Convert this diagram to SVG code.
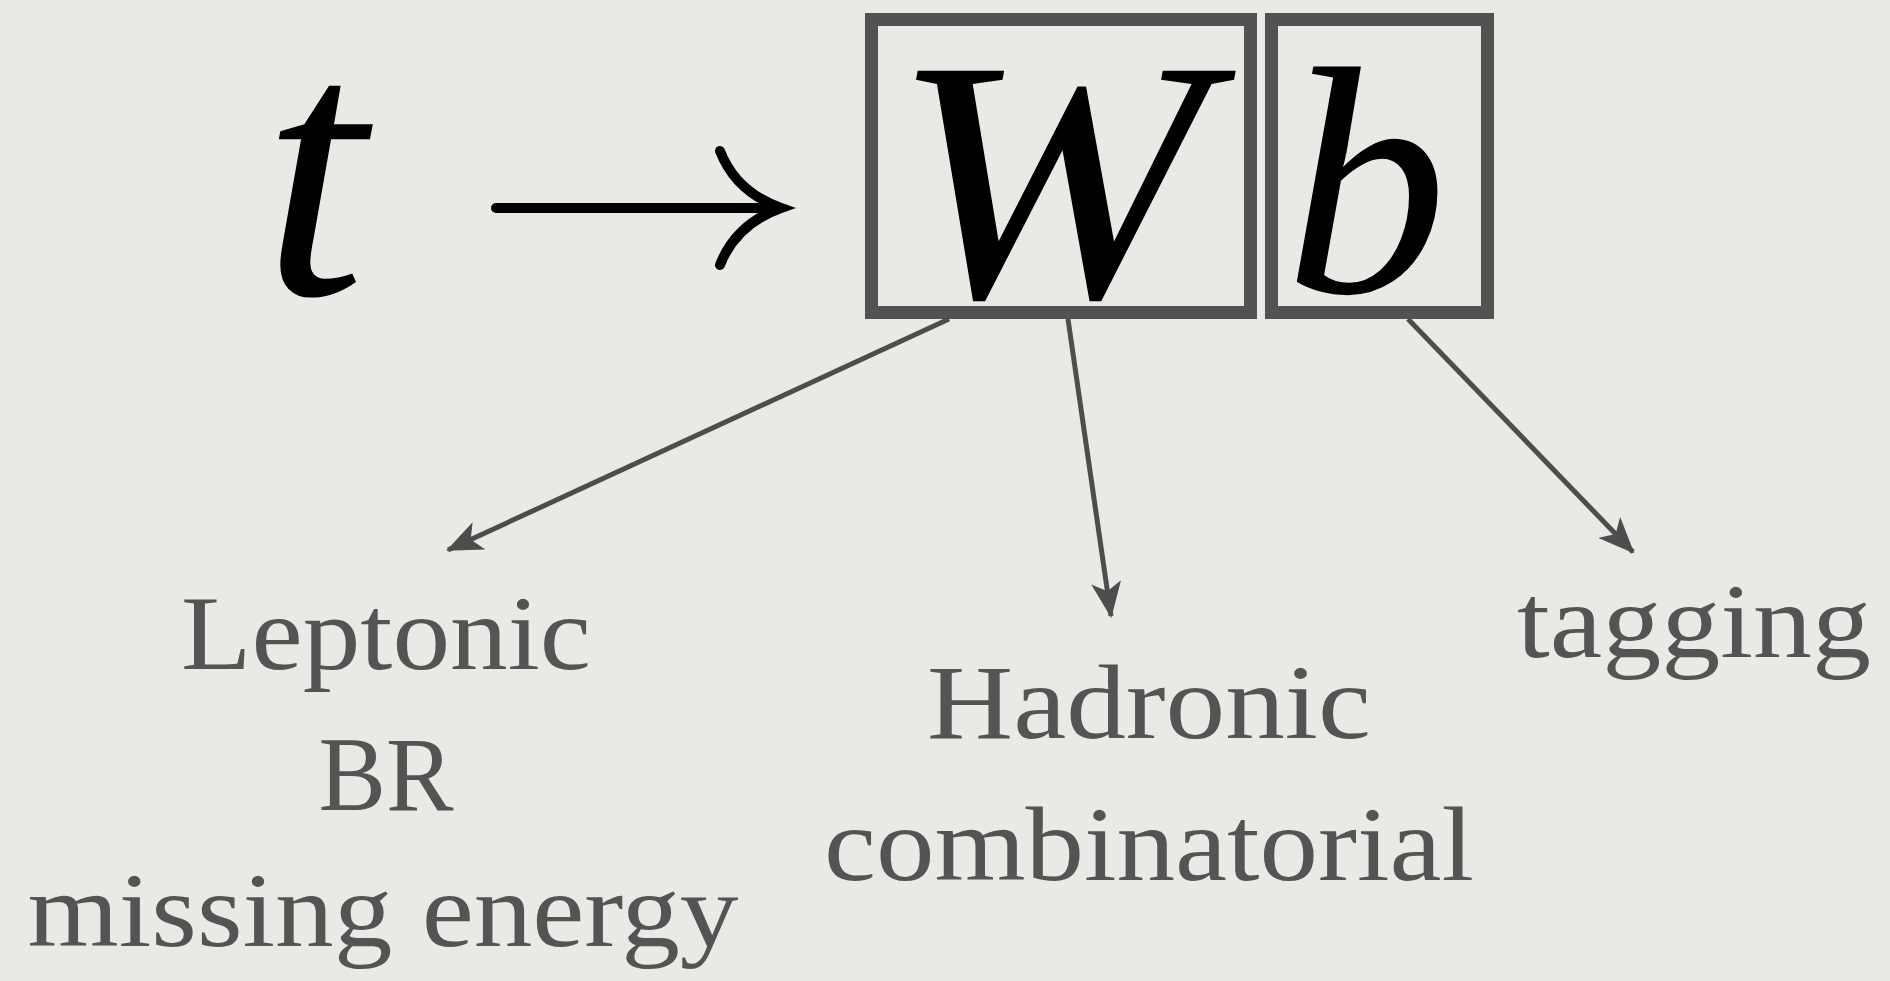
<svg xmlns="http://www.w3.org/2000/svg" width="1890" height="981" viewBox="0 0 1890 981">
<style>
.math{font-family:"Liberation Serif",serif;font-style:italic;fill:#000;text-anchor:middle}
.lbl{font-family:"Liberation Serif",serif;font-size:106px;fill:#545454;text-anchor:middle}
.box{fill:none;stroke:#525252;stroke-width:13}
.conn{stroke:#4d4d4d;stroke-width:5;fill:none;marker-end:url(#ah)}
</style>
<defs>
<marker id="ah" markerUnits="userSpaceOnUse" viewBox="0 0 36 30" refX="34" refY="15" markerWidth="36" markerHeight="30" orient="auto">
<path d="M0,0 L36,15 L0,30 L9,15 Z" fill="#4d4d4d"/>
</marker>
</defs>
<rect width="1890" height="981" fill="#e9e9e5"/>
<g id="formula">
<text class="math" x="314" y="294" font-size="370">t</text>
<path d="M496,208 H776 M720,151 Q736,192 781,208 Q736,224 720,265" fill="none" stroke="#000" stroke-width="10" stroke-linecap="round"/>
</g>
<g id="node-W">
<rect class="box" x="871.5" y="19.5" width="379" height="293"/>
<text class="math" x="1049" y="296" font-size="344" textLength="316" lengthAdjust="spacingAndGlyphs">W</text>
</g>
<g id="node-b">
<rect class="box" x="1271.5" y="19.5" width="216" height="293"/>
<text class="math" x="1366" y="292" font-size="325">b</text>
</g>
<g id="connectors">
<line class="conn" x1="949" y1="319" x2="448" y2="550"/>
<line class="conn" x1="1068" y1="319" x2="1111" y2="616"/>
<line class="conn" x1="1408" y1="319" x2="1633" y2="552"/>
</g>
<g id="node-leptonic">
<text class="lbl" x="386" y="669" textLength="410" lengthAdjust="spacingAndGlyphs">Leptonic</text>
<text class="lbl" x="386" y="810" textLength="135" lengthAdjust="spacingAndGlyphs">BR</text>
<text class="lbl" x="383" y="946" textLength="711" lengthAdjust="spacingAndGlyphs">missing energy</text>
</g>
<g id="node-hadronic">
<text class="lbl" x="1149" y="738" textLength="444" lengthAdjust="spacingAndGlyphs">Hadronic</text>
<text class="lbl" x="1149" y="880" textLength="650" lengthAdjust="spacingAndGlyphs">combinatorial</text>
</g>
<g id="node-tagging">
<text class="lbl" x="1694" y="657" textLength="354" lengthAdjust="spacingAndGlyphs">tagging</text>
</g>
</svg>
